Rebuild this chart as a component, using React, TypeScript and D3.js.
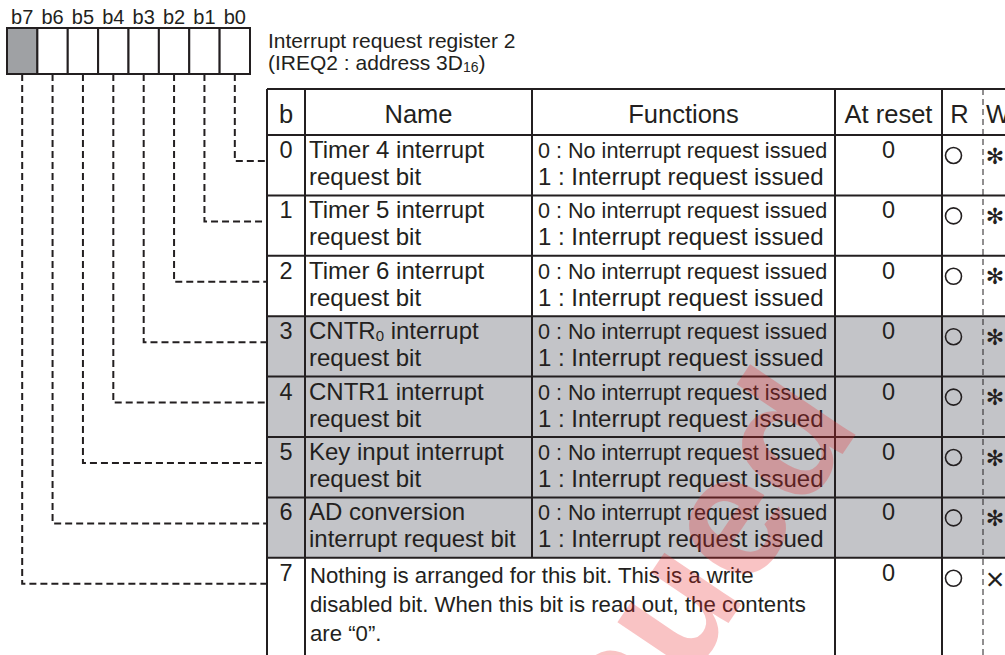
// IREQ2 register map - bit boxes, leader lines and bit description table

import { useEffect, useRef } from "react";
import * as d3 from "d3";

const bitLabels = ["b7", "b6", "b5", "b4", "b3", "b2", "b1", "b0"];
const shadedBits = ["b7"];
const titleLines = ["Interrupt request register 2", "(IREQ2 : address 3D_{16})"];
const headers = ["b", "Name", "Functions", "At reset", "R", "W"];
const bitNumbers = ["0", "1", "2", "3", "4", "5", "6", "7"];
const nameLines = [
  ["Timer 4 interrupt", "request bit"],
  ["Timer 5 interrupt", "request bit"],
  ["Timer 6 interrupt", "request bit"],
  ["CNTR_{0} interrupt", "request bit"],
  ["CNTR1 interrupt", "request bit"],
  ["Key input interrupt", "request bit"],
  ["AD conversion", "interrupt request bit"],
];
const functionLines = ["0 : No interrupt request issued", "1 : Interrupt request issued"];
const reservedLines = [
  "Nothing is arranged for this bit. This is a write",
  "disabled bit. When this bit is read out, the contents",
  "are “0”.",
];
const atReset = ["0", "0", "0", "0", "0", "0", "0", "0"];
const readable = [true, true, true, true, true, true, true, true];
const writeMarks = ["✻", "✻", "✻", "✻", "✻", "✻", "✻", "×"];
const shadedRows = [false, false, false, true, true, true, true, false];
const watermark = "Discontinued";

const INK = "#231f20";
const FONT = "'Liberation Sans', Arial, sans-serif";

// writes "abc_{sub}def" as tspans with a small subscript
function richText(
  sel: d3.Selection<SVGTextElement, unknown, null, undefined>,
  str: string,
  subSize: number,
) {
  const parts = str.split(/_\{([^}]*)\}/);
  parts.forEach((p, i) => {
    if (!p) return;
    const t = sel.append("tspan").text(p);
    if (i % 2 === 1) {
      t.attr("font-size", subSize).attr("dy", 2);
    } else if (i > 0) {
      t.attr("dy", -2);
    }
  });
}

export default function App() {
  const svgRef = useRef<SVGSVGElement>(null);
  const width = 1005;
  const height = 655;

  useEffect(() => {
    if (!svgRef.current) return;
    const svg = d3.select(svgRef.current);
    svg.selectAll("*").remove();

    // register boxes
    const boxTop = 28;
    const boxBottom = 74;
    const x = d3.scaleBand<string>().domain(bitLabels).range([7, 250]).padding(0);

    svg
      .append("g")
      .selectAll("text")
      .data(bitLabels)
      .join("text")
      .attr("x", (d) => x(d)! + x.bandwidth() / 2)
      .attr("y", 24)
      .attr("text-anchor", "middle")
      .attr("font-family", FONT)
      .attr("font-size", 20)
      .attr("fill", INK)
      .text((d) => d);

    svg
      .append("g")
      .selectAll("rect")
      .data(bitLabels)
      .join("rect")
      .attr("x", (d) => x(d)!)
      .attr("y", boxTop)
      .attr("width", x.bandwidth())
      .attr("height", boxBottom - boxTop)
      .attr("fill", (d) => (shadedBits.includes(d) ? "#9fa1a4" : "#fff"))
      .attr("stroke", INK)
      .attr("stroke-width", 2);

    // title
    titleLines.forEach((line, i) => {
      const t = svg
        .append("text")
        .attr("x", 268)
        .attr("y", 48 + i * 22)
        .attr("font-family", FONT)
        .attr("font-size", 21)
        .attr("fill", INK);
      richText(t, line, 14);
    });

    // table geometry
    const tableTop = 89;
    const headBottom = 135;
    const rowH = 60.4;
    const row = d3
      .scaleLinear()
      .domain([0, bitNumbers.length])
      .range([headBottom, headBottom + bitNumbers.length * rowH]);
    const cols = [267, 305, 532, 835, 942, 983, 1040];
    const tableBottom = 670;
    const lastTop = row(bitNumbers.length - 1);

    const grid = svg.append("g");

    // shaded rows
    grid
      .selectAll("rect")
      .data(bitNumbers.filter((_, i) => shadedRows[i]))
      .join("rect")
      .attr("x", cols[0])
      .attr("y", (d) => row(+d))
      .attr("width", cols[6] - cols[0])
      .attr("height", rowH)
      .attr("fill", "#c3c4c8");

    const hLines = [tableTop, ...bitNumbers.map((d) => row(+d))];
    grid
      .selectAll("line.h")
      .data(hLines)
      .join("line")
      .attr("class", "h")
      .attr("x1", cols[0])
      .attr("x2", cols[6])
      .attr("y1", (d) => d)
      .attr("y2", (d) => d)
      .attr("stroke", INK)
      .attr("stroke-width", 2);

    const vLines = [
      { x: cols[0], y2: tableBottom },
      { x: cols[1], y2: tableBottom },
      { x: cols[2], y2: lastTop },
      { x: cols[3], y2: tableBottom },
      { x: cols[4], y2: tableBottom },
    ];
    grid
      .selectAll("line.v")
      .data(vLines)
      .join("line")
      .attr("class", "v")
      .attr("x1", (d) => d.x)
      .attr("x2", (d) => d.x)
      .attr("y1", tableTop)
      .attr("y2", (d) => d.y2)
      .attr("stroke", INK)
      .attr("stroke-width", 2);

    // R / W separator
    grid
      .append("line")
      .attr("x1", cols[5])
      .attr("x2", cols[5])
      .attr("y1", tableTop)
      .attr("y2", tableBottom)
      .attr("stroke", INK)
      .attr("stroke-width", 1)
      .attr("stroke-dasharray", "6,4");

    // header
    const headX = [
      (cols[0] + cols[1]) / 2,
      (cols[1] + cols[2]) / 2,
      (cols[2] + cols[3]) / 2,
      (cols[3] + cols[4]) / 2,
      (cols[4] + cols[5]) / 2 - 3,
      cols[5] + 3,
    ];
    svg
      .append("g")
      .selectAll("text")
      .data(headers)
      .join("text")
      .attr("x", (_, i) => headX[i])
      .attr("y", 123)
      .attr("text-anchor", (_, i) => (i === 5 ? "start" : "middle"))
      .attr("font-family", FONT)
      .attr("font-size", 25.5)
      .attr("fill", INK)
      .text((d) => d);

    // body rows
    const body = svg.append("g").attr("font-family", FONT).attr("fill", INK);
    bitNumbers.forEach((b, i) => {
      const top = row(i);
      body
        .append("text")
        .attr("x", headX[0])
        .attr("y", top + 23)
        .attr("text-anchor", "middle")
        .attr("font-size", 23.5)
        .text(b);

      if (i < nameLines.length) {
        nameLines[i].forEach((line, j) => {
          const t = body
            .append("text")
            .attr("x", 309)
            .attr("y", top + 23 + j * 27)
            .attr("font-size", 24);
          richText(t, line, 15);
        });
        functionLines.forEach((line, j) => {
          body
            .append("text")
            .attr("x", 538)
            .attr("y", top + 23 + j * 27)
            .attr("font-size", j === 0 ? 21.6 : 24)
            .text(line);
        });
      } else {
        reservedLines.forEach((line, j) => {
          body
            .append("text")
            .attr("x", 310)
            .attr("y", top + 25 + j * 29)
            .attr("font-size", 22.2)
            .text(line);
        });
      }

      body
        .append("text")
        .attr("x", headX[3])
        .attr("y", top + 23)
        .attr("text-anchor", "middle")
        .attr("font-size", 23.5)
        .text(atReset[i]);

      if (readable[i]) {
        body
          .append("circle")
          .attr("cx", 953.5)
          .attr("cy", top + 20.5)
          .attr("r", 8)
          .attr("fill", "none")
          .attr("stroke", INK)
          .attr("stroke-width", 1.6);
      }

      const isCross = writeMarks[i] === "×";
      body
        .append("text")
        .attr("x", 995)
        .attr("y", top + 21)
        .attr("text-anchor", "middle")
        .attr("dominant-baseline", "central")
        .attr("font-family", isCross ? FONT : "'DejaVu Sans', sans-serif")
        .attr("font-size", isCross ? 32 : 22)
        .attr("font-weight", isCross ? "normal" : "bold")
        .text(writeMarks[i]);
    });

    // dashed leader lines from each bit box to its table row
    const leaders = bitLabels.map((d) => {
      const n = +d.slice(1);
      const cx = x(d)! + x.bandwidth() / 2;
      const y = row(n) + 26;
      return [
        [cx, boxBottom],
        [cx, y],
        [cols[0], y],
      ] as [number, number][];
    });
    svg
      .append("g")
      .selectAll("path")
      .data(leaders)
      .join("path")
      .attr("d", (d) => d3.line()(d))
      .attr("fill", "none")
      .attr("stroke", INK)
      .attr("stroke-width", 2)
      .attr("stroke-dasharray", "7,4");

    // watermark
    svg
      .append("text")
      .attr("transform", "translate(862,425) rotate(-56)")
      .attr("text-anchor", "end")
      .attr("font-family", FONT)
      .attr("font-weight", "bold")
      .attr("font-size", 175)
      .attr("fill", "#e8262b")
      .attr("fill-opacity", 0.28)
      .text(watermark);
  }, []);

  return (
    <svg
      ref={svgRef}
      width={width}
      height={height}
      style={{ position: "absolute", left: 0, top: 0, background: "#fff" }}
    />
  );
}
